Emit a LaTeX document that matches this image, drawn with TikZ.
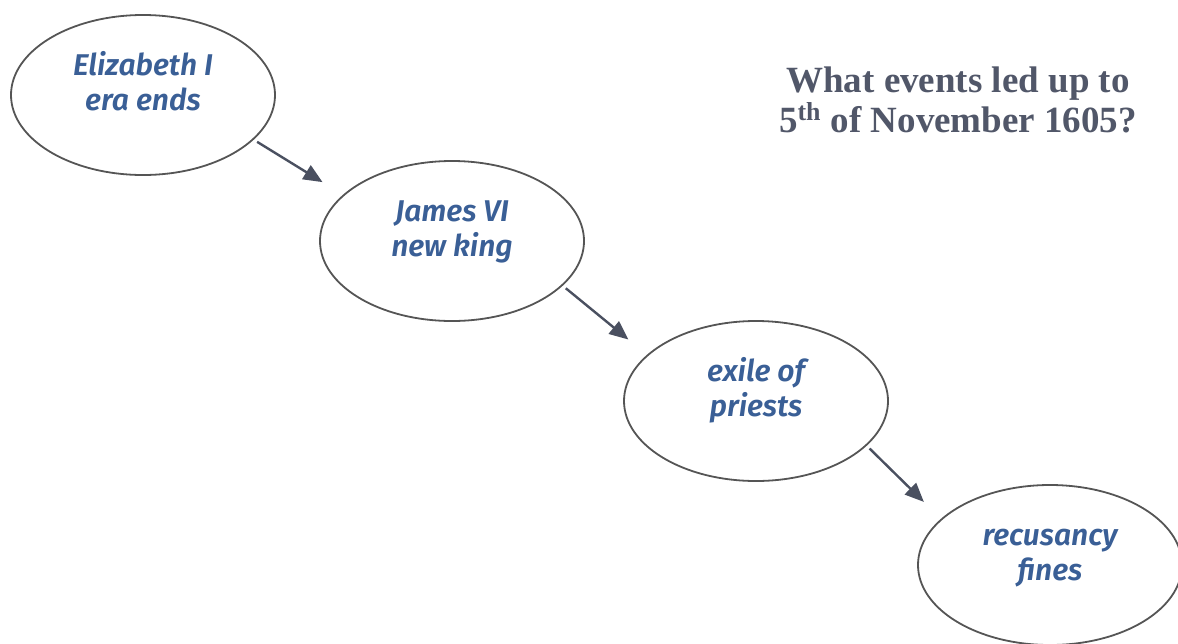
\documentclass[tikz,border=0pt]{standalone}
\usepackage{fontspec}
\usepackage{xcolor}
\usepackage{tikz}
\usetikzlibrary{arrows.meta,positioning,shapes.geometric}
\setmainfont{Liberation Serif}
\newfontfamily\handfont{Fira Sans}[BoldFont={Fira Sans SemiBold},BoldItalicFont={Fira Sans SemiBold Italic}]
\definecolor{eventblue}{HTML}{3A5F96}
\definecolor{ringgray}{HTML}{555555}
\definecolor{arrowgray}{HTML}{4A5060}
\definecolor{titlegray}{HTML}{515769}

\begin{document}
\begin{tikzpicture}[>={Triangle[length=9.5pt,width=8pt]},x=0.5pt,y=-0.5pt]
  \tikzstyle{event}=[draw=ringgray,line width=0.9pt,ellipse,minimum width=132pt,minimum height=80pt,inner sep=0pt,align=center,text height=28.5pt,text depth=13.5pt,text=eventblue,font=\handfont\bfseries\itshape\fontsize{15}{17.5}\selectfont]
  \tikzstyle{link}=[->,line width=1.2pt,draw=arrowgray,fill=arrowgray,shorten >=12pt,shorten <=2pt]
  \useasboundingbox (0,0) rectangle (1178,643);
  \node[event] (eliz) at (143,95) {Elizabeth I\\era ends};
  \node[event] (james) at (452,241) {James VI\\new king};
  \node[event] (exile) at (756,401) {exile of\\priests};
  \node[event] (fines) at (1050,565) {recusancy\\fines};
  \node[align=center,text=titlegray,font=\bfseries\fontsize{18.5}{20}\selectfont] (title) at (958,100) {What events led up to\\5\textsuperscript{th} of November 1605?};
  \draw[link] (eliz.-22) -- (james.157);
  \draw[link] (james.-22) -- (exile.157);
  \draw[link] (exile.-22) -- (fines.157);
\end{tikzpicture}
\end{document}
